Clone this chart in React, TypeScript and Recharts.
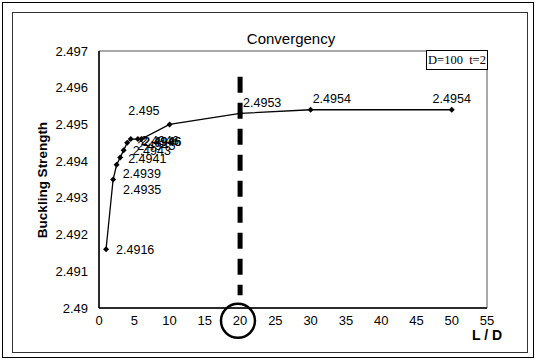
import { LineChart, Line, XAxis, YAxis, ReferenceLine, ReferenceDot, ReferenceArea, LabelList } from 'recharts';

// L/D ratio and buckling strength
const lengthRatio = [1, 2, 2.5, 3, 3.5, 4, 4.5, 5.5, 6, 10, 20, 30, 50];
const strength = [2.4916, 2.4935, 2.4939, 2.4941, 2.4943, 2.4945, 2.4946, 2.4946, 2.4946, 2.495, 2.4953, 2.4954, 2.4954];

const xTicks = [0, 5, 10, 15, 20, 25, 30, 35, 40, 45, 50, 55];
const yTicks = [2.49, 2.491, 2.492, 2.493, 2.494, 2.495, 2.496, 2.497];

// hand-drawn annotation: dashed marker at L/D = 20 and the circle round its tick label
const markerX = 20;
const markerTop = 2.4963;
const markerBottom = 2.49035;
const circleX = 19.7;
const circleY = 2.48965;

const data = lengthRatio.map((ld, i) => ({ ld, strength: strength[i] }));

const font = '"Liberation Sans", Arial, sans-serif';

// [dx, dy, anchor] for each point label, roughly where Excel dropped them
const labelPlacement: [number, number, string][] = [
  [10, 0, 'start'],
  [10, 10, 'start'],
  [6, 9, 'start'],
  [8, 1, 'start'],
  [9, 0, 'start'],
  [10, 3, 'start'],
  [10, 1, 'start'],
  [5, 2, 'start'],
  [2, 2, 'start'],
  [-10, -14, 'end'],
  [3, -11, 'start'],
  [2, -11, 'start'],
  [0, -11, 'middle'],
];

function renderLabel(props: any) {
  const { x, y, value, index } = props;
  const [dx, dy, anchor] = labelPlacement[index] || [8, 0, 'start'];
  return (
    <text
      x={x + dx}
      y={y + dy + 4.5}
      textAnchor={anchor}
      fontSize={12.5}
      fontFamily={font}
      fill="#000"
    >
      {value}
    </text>
  );
}

function renderDot(props: any) {
  const { cx, cy, index } = props;
  const s = 3;
  return (
    <path
      key={`dot-${index}`}
      d={`M${cx},${cy - s}L${cx + s},${cy}L${cx},${cy + s}L${cx - s},${cy}Z`}
      fill="#000"
    />
  );
}

const fmtY = (v: number) => String(+v.toFixed(3));

export default function App() {
  return (
    <div style={{ position: 'absolute', left: 0, top: 0, width: 536, height: 360, background: '#fff', fontFamily: font }}>
      <div style={{ position: 'absolute', left: 2, top: 2, width: 530, height: 354, border: '1.5px solid #000' }} />
      <div style={{ position: 'absolute', left: 12, top: 12, width: 514, height: 339, border: '1px solid #333' }} />

      <LineChart
        width={536}
        height={360}
        data={data}
        margin={{ top: 51, right: 49, left: 44, bottom: 22 }}
        style={{ position: 'absolute', left: 0, top: 0 }}
      >
        <XAxis
          dataKey="ld"
          type="number"
          domain={[0, 55]}
          ticks={xTicks}
          interval={0}
          height={30}
          tickLine={false}
          tickSize={0}
          tickMargin={8}
          axisLine={{ stroke: '#000', strokeWidth: 1.5 }}
          tick={{ fill: '#000', fontSize: 13, fontFamily: font }}
        />
        <YAxis
          type="number"
          domain={[2.49, 2.497]}
          ticks={yTicks}
          interval={0}
          width={55}
          tickLine={false}
          tickSize={0}
          tickMargin={11}
          tickFormatter={fmtY}
          axisLine={{ stroke: '#000', strokeWidth: 1.5 }}
          tick={{ fill: '#000', fontSize: 13, fontFamily: font }}
        />
        <ReferenceArea x1={0} x2={55} y1={2.49} y2={2.497} fill="none" stroke="#555" strokeWidth={1} />
        <ReferenceLine
          segment={[{ x: markerX, y: markerTop }, { x: markerX, y: markerBottom }]}
          stroke="#000"
          strokeWidth={5}
          strokeDasharray="16 10"
        />
        <ReferenceDot
          x={circleX}
          y={circleY}
          r={17}
          fill="none"
          stroke="#000"
          strokeWidth={2.5}
          ifOverflow="visible"
        />
        <Line
          type="linear"
          dataKey="strength"
          stroke="#000"
          strokeWidth={1.3}
          dot={renderDot}
          activeDot={false}
          isAnimationActive={false}
        >
          <LabelList dataKey="strength" content={renderLabel} />
        </Line>
      </LineChart>

      <div style={{ position: 'absolute', left: 0, width: 582, top: 30, textAlign: 'center', fontSize: 15 }}>
        Convergency
      </div>
      <div
        style={{
          position: 'absolute',
          left: 42,
          top: 180,
          transform: 'translate(-50%, -50%) rotate(-90deg)',
          whiteSpace: 'nowrap',
          fontSize: 13.5,
          fontWeight: 'bold',
        }}
      >
        Buckling Strength
      </div>
      <div style={{ position: 'absolute', left: 472, top: 327, fontSize: 14, fontWeight: 'bold', whiteSpace: 'pre' }}>
        L / D
      </div>
      <div
        style={{
          position: 'absolute',
          left: 426,
          top: 50,
          width: 60,
          height: 18,
          border: '1px solid #000',
          background: '#fff',
          fontFamily: '"Liberation Serif", "Times New Roman", serif',
          fontSize: 12.5,
          lineHeight: '18px',
          textAlign: 'center',
          whiteSpace: 'pre',
          overflow: 'hidden',
        }}
      >
        D=100  t=2
      </div>
    </div>
  );
}
